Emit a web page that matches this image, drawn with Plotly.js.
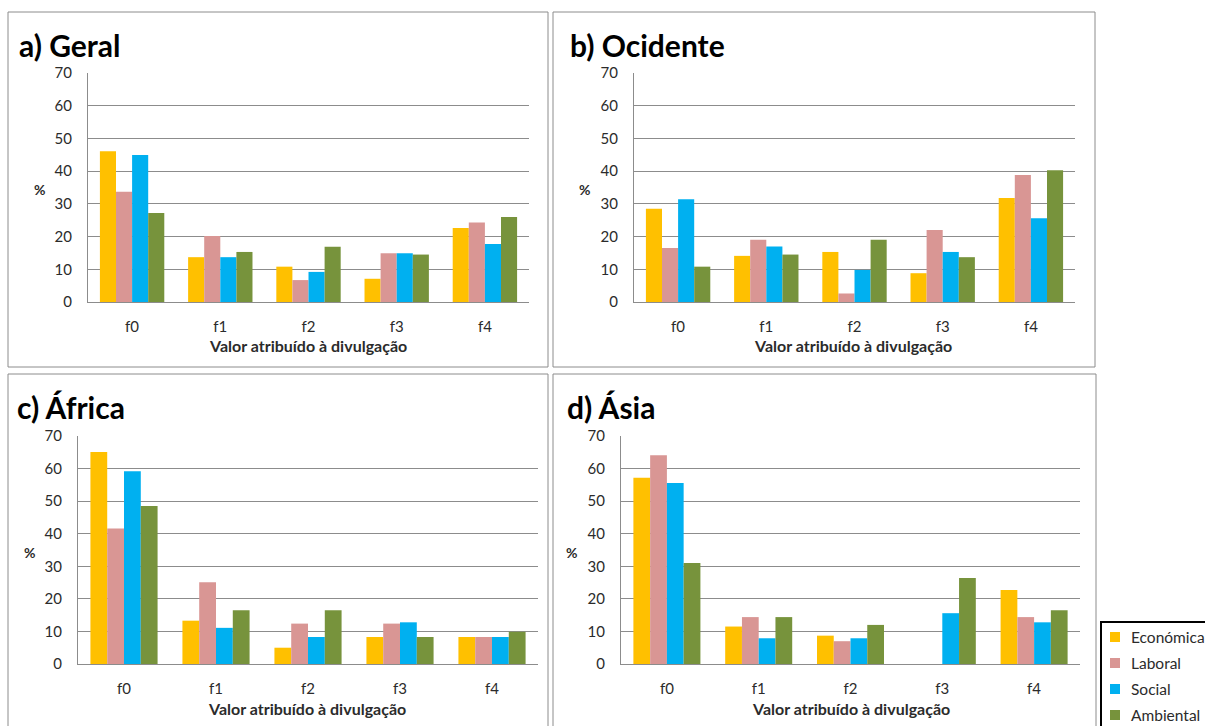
<!DOCTYPE html>
<html>
<head>
<meta charset="utf-8">
<script src="https://cdn.plot.ly/plotly-3.0.1.min.js"></script>
<style>html,body{margin:0;padding:0;background:#fff;}#chart{width:1205px;height:726px;}</style>
</head>
<body>
<div id="chart"></div>
<script>
// ---- data ----
var categories = ['f0', 'f1', 'f2', 'f3', 'f4'];
var seriesNames = ['Económica', 'Laboral', 'Social', 'Ambiental'];
var seriesColors = ['#FFC000', '#D99694', '#00B0F0', '#77933C'];
var panelTitles = ['a) Geral', 'b) Ocidente', 'c) África', 'd) Ásia'];
var xAxisTitle = 'Valor atribuído à divulgação';
var yAxisTitle = '%';
var yTickVals = [0, 10, 20, 30, 40, 50, 60, 70];

var geralEconomica = [46.1, 13.7, 10.8, 7.1, 22.6];
var geralLaboral   = [33.7, 20.2, 6.7, 14.9, 24.3];
var geralSocial    = [44.9, 13.7, 9.2, 14.9, 17.7];
var geralAmbiental = [27.2, 15.3, 16.9, 14.5, 26.0];

var ocidenteEconomica = [28.5, 14.1, 15.3, 8.8, 31.8];
var ocidenteLaboral   = [16.5, 19.0, 2.6, 22.0, 38.8];
var ocidenteSocial    = [31.4, 17.0, 9.8, 15.3, 25.6];
var ocidenteAmbiental = [10.8, 14.5, 19.0, 13.7, 40.3];

var africaEconomica = [65.1, 13.3, 5.0, 8.3, 8.3];
var africaLaboral   = [41.6, 25.1, 12.4, 12.4, 8.3];
var africaSocial    = [59.2, 11.1, 8.3, 12.8, 8.3];
var africaAmbiental = [48.5, 16.5, 16.5, 8.3, 9.9];

var asiaEconomica = [57.2, 11.5, 8.7, 0, 22.7];
var asiaLaboral   = [64.1, 14.4, 7.0, 0, 14.4];
var asiaSocial    = [55.6, 7.9, 7.9, 15.6, 12.8];
var asiaAmbiental = [31.0, 14.4, 12.0, 26.4, 16.5];

var panelData = [
  [geralEconomica, geralLaboral, geralSocial, geralAmbiental],
  [ocidenteEconomica, ocidenteLaboral, ocidenteSocial, ocidenteAmbiental],
  [africaEconomica, africaLaboral, africaSocial, africaAmbiental],
  [asiaEconomica, asiaLaboral, asiaSocial, asiaAmbiental]
];

// ---- layout geometry (pixels) ----
var W = 1205, H = 726;
function px(x) { return x / W; }
function py(y) { return 1 - y / H; }

var plotBoxes = [
  {l: 88, r: 529, t: 73, b: 302},
  {l: 634, r: 1075, t: 73, b: 302},
  {l: 78, r: 538, t: 436, b: 664},
  {l: 621, r: 1080, t: 436, b: 664}
];
var frames = [
  {l: 8, r: 548, t: 12, b: 367},
  {l: 553, r: 1095, t: 12, b: 367},
  {l: 8, r: 548, t: 374, b: 740},
  {l: 553, r: 1096, t: 374, b: 740}
];
var titlePos = [{x: 17, y: 45}, {x: 568, y: 45}, {x: 15, y: 407}, {x: 565, y: 407}];
var pctPos = [{x: 39, y: 190}, {x: 584, y: 190}, {x: 29, y: 552}, {x: 571, y: 552}];
var xtitlePos = [{x: 308, y: 345}, {x: 853, y: 345}, {x: 307, y: 708}, {x: 851, y: 708}];

var FONT = 'Lato, "Open Sans", sans-serif';
var TXT = '#2b2b2b';
var gridCol = '#8c8c8c';

var traces = [];
var layout = {
  width: W, height: H,
  margin: {l: 0, r: 0, t: 0, b: 0},
  paper_bgcolor: '#fff', plot_bgcolor: '#fff',
  barmode: 'group', bargap: 0.27, bargroupgap: 0,
  showlegend: false,
  font: {family: FONT, size: 15, color: TXT},
  shapes: [], annotations: []
};

for (var p = 0; p < 4; p++) {
  var sfx = p === 0 ? '' : String(p + 1);
  for (var s = 0; s < 4; s++) {
    traces.push({
      type: 'bar', x: categories, y: panelData[p][s], name: seriesNames[s],
      marker: {color: seriesColors[s], line: {width: 0}},
      xaxis: 'x' + sfx, yaxis: 'y' + sfx, hoverinfo: 'x+y+name'
    });
  }
  var b = plotBoxes[p];
  layout['xaxis' + sfx] = {
    domain: [px(b.l), px(b.r)], anchor: 'y' + sfx,
    type: 'category', showline: true, linecolor: gridCol, linewidth: 1,
    showgrid: false, zeroline: false,
    ticks: 'outside', ticklen: 11, tickcolor: 'rgba(0,0,0,0)',
    tickfont: {family: FONT, size: 15, color: TXT}, fixedrange: true
  };
  layout['yaxis' + sfx] = {
    domain: [py(b.b), py(b.t)], anchor: 'x' + sfx,
    range: [0, 70], tickvals: yTickVals, showline: true, linecolor: gridCol, linewidth: 1,
    showgrid: true, gridcolor: gridCol, gridwidth: 1, zeroline: false,
    ticks: 'outside', ticklen: 12, tickcolor: 'rgba(0,0,0,0)',
    tickfont: {family: FONT, size: 15, color: TXT}, fixedrange: true
  };
  var f = frames[p];
  layout.shapes.push({type: 'rect', xref: 'paper', yref: 'paper',
    x0: px(f.l), x1: px(f.r), y0: py(f.b), y1: py(f.t),
    line: {color: '#8c8c8c', width: 1}, fillcolor: 'rgba(0,0,0,0)', layer: 'below'});
  layout.annotations.push({xref: 'paper', yref: 'paper', x: px(titlePos[p].x), y: py(titlePos[p].y),
    xanchor: 'left', yanchor: 'middle', showarrow: false, text: '<b>' + panelTitles[p] + '</b>',
    font: {family: FONT, size: 30, color: '#000'}});
  layout.annotations.push({xref: 'paper', yref: 'paper', x: px(pctPos[p].x), y: py(pctPos[p].y),
    xanchor: 'center', yanchor: 'middle', showarrow: false, text: '<b>' + yAxisTitle + '</b>',
    font: {family: FONT, size: 14, color: TXT}});
  layout.annotations.push({xref: 'paper', yref: 'paper', x: px(xtitlePos[p].x), y: py(xtitlePos[p].y),
    xanchor: 'center', yanchor: 'middle', showarrow: false, text: '<b>' + xAxisTitle + '</b>',
    font: {family: FONT, size: 16, color: TXT}});
}

// ---- manual legend box ----
layout.shapes.push({type: 'rect', xref: 'paper', yref: 'paper',
  x0: px(1101), x1: px(1212), y0: py(735), y1: py(622),
  line: {color: '#000', width: 2}, fillcolor: '#fff'});
var legY = [637, 663, 689, 715];
for (var i = 0; i < 4; i++) {
  layout.shapes.push({type: 'rect', xref: 'paper', yref: 'paper',
    x0: px(1110), x1: px(1120), y0: py(legY[i] + 5), y1: py(legY[i] - 5),
    line: {width: 0}, fillcolor: seriesColors[i]});
  layout.annotations.push({xref: 'paper', yref: 'paper', x: px(1129), y: py(legY[i]),
    xanchor: 'left', yanchor: 'middle', showarrow: false, text: seriesNames[i],
    font: {family: FONT, size: 15.5, color: TXT}});
}

Plotly.newPlot('chart', traces, layout, {displayModeBar: false, staticPlot: true});
</script>
</body>
</html>
